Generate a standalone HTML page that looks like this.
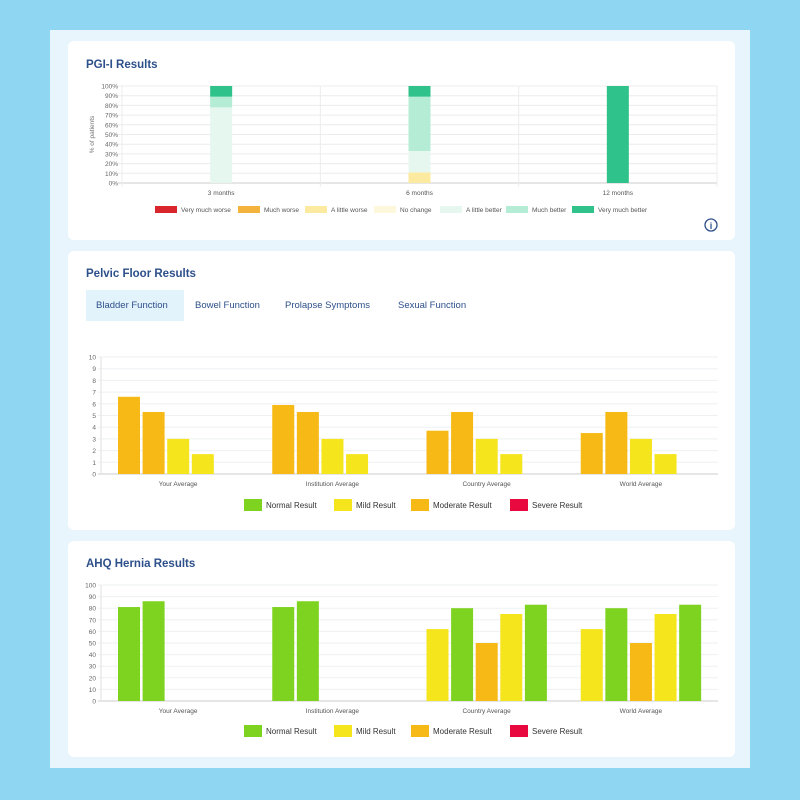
<!DOCTYPE html>
<html><head><meta charset="utf-8">
<style>
body{margin:0;width:800px;height:800px;background:#8fd6f3;font-family:"Liberation Sans",sans-serif;position:relative;overflow:hidden}
#panel{position:absolute;left:50px;top:30px;width:700px;height:738px;background:#e8f5fc}
.card{position:absolute;left:68px;width:667px;background:#fff;border-radius:6px}
.title{position:absolute;left:18px;font-size:11.5px;font-weight:bold;color:#2d4f8a}
.tab{position:absolute;top:39px;height:31px;line-height:31px;font-size:9.5px;color:#2d4f8a;padding:0 10px}
svg{position:absolute;left:0;top:0}
text{font-family:"Liberation Sans",sans-serif}
</style></head><body>
<div id="panel"></div>
<div class="card" style="top:41px;height:199px">
 <div class="title" style="top:18px">PGI-I Results</div>
</div>
<div class="card" style="top:251px;height:279px">
 <div class="title" style="top:17px">Pelvic Floor Results</div>
 <div class="tab" style="left:18px;background:#e3f3fc;width:78px">Bladder Function</div>
 <div class="tab" style="left:117px">Bowel Function</div>
 <div class="tab" style="left:207px">Prolapse Symptoms</div>
 <div class="tab" style="left:320px">Sexual Function</div>
</div>
<div class="card" style="top:541px;height:216px">
 <div class="title" style="top:17px">AHQ Hernia Results</div>
</div>
<svg id="chart" width="800" height="800"></svg>
<script>
// PGI-I data (percent stacked)
const pgiCats = ["3 months","6 months","12 months"];
const pgiSeriesNames = ["Very much worse","Much worse","A little worse","No change","A little better","Much better","Very much better"];
const pgiColors = ["#d8262c","#f4b33d","#fbeaa0","#fdf8dc","#e6f7ef","#b5ecd5","#2fc28a"];
const pgiVeryMuchWorse = [0,0,0];
const pgiMuchWorse = [0,0,0];
const pgiLittleWorse = [0,11,0];
const pgiNoChange = [0,0,0];
const pgiLittleBetter = [78,22,0];
const pgiMuchBetter = [11,56,0];
const pgiVeryMuchBetter = [11,11,100];
const pgiTicks = ["0%","10%","20%","30%","40%","50%","60%","70%","80%","90%","100%"];

// Pelvic floor (bladder) data
const pelCats = ["Your Average","Institution Average","Country Average","World Average"];
const pelValues = [[6.6,5.3,3.0,1.7],[5.9,5.3,3.0,1.7],[3.7,5.3,3.0,1.7],[3.5,5.3,3.0,1.7]];
const pelLevels = [["mod","mod","mild","mild"],["mod","mod","mild","mild"],["mod","mod","mild","mild"],["mod","mod","mild","mild"]];
const pelTicks = [0,1,2,3,4,5,6,7,8,9,10];

// AHQ data
const ahqCats = ["Your Average","Institution Average","Country Average","World Average"];
const ahqValues = [[81,86],[81,86],[62,80,50,75,83],[62,80,50,75,83]];
const ahqLevels = [["norm","norm"],["norm","norm"],["mild","norm","mod","mild","norm"],["mild","norm","mod","mild","norm"]];
const ahqTicks = [0,10,20,30,40,50,60,70,80,90,100];

const levelNames = ["Normal Result","Mild Result","Moderate Result","Severe Result"];
const levelColors = {norm:"#7ed321",mild:"#f5e51c",mod:"#f6b915",sev:"#e8093f"};
const levelKeys = ["norm","mild","mod","sev"];

const NS="http://www.w3.org/2000/svg";
const svg=document.getElementById('chart');
function mk(tag,attrs,txt){const e=document.createElementNS(NS,tag);for(const k in attrs)e.setAttribute(k,attrs[k]);if(txt!==undefined)e.textContent=txt;svg.appendChild(e);return e;}

// ---- PGI ----
(function(){
 const L=122,R=717,T=86,B=183;
 const y=v=>B-(v/100)*(B-T);
 const band=(R-L)/pgiCats.length;
 const x=i=>L+band*(i+0.5);
 pgiTicks.forEach((t,i)=>{
  const yy=y(i*10);
  const g=mk('line',{x1:L-4,x2:R,y1:yy,y2:yy,stroke:i===0?'#ccc':'#ececec','stroke-width':1});
  
  
  const tx=mk('text',{x:L-4,y:yy+2.5,'font-size':6.5,fill:'#666','text-anchor':'end'},t);
  
  
 });
 for(let i=0;i<=pgiCats.length;i++){
  const xx=L+band*i;
  const v=mk('line',{x1:xx,x2:xx,y1:T,y2:B+4,stroke:'#ececec'});
  
  
 }
 const yt=mk('text',{x:0,y:0,'font-size':6.5,fill:'#777','text-anchor':'middle',transform:`translate(94,${(T+B)/2}) rotate(-90)`},'% of patients');
 
 
 const series=[pgiVeryMuchWorse,pgiMuchWorse,pgiLittleWorse,pgiNoChange,pgiLittleBetter,pgiMuchBetter,pgiVeryMuchBetter];
 pgiCats.forEach((c,i)=>{
  let acc=0;
  series.forEach((s,k)=>{
   const v=s[i]; if(!v)return;
   const r=mk('rect',{x:x(i)-11,y:y(acc+v),width:22,height:y(acc)-y(acc+v),fill:pgiColors[k]});
   
   
   acc+=v;
  });
  const lb=mk('text',{x:x(i),y:B+12,'font-size':6.5,fill:'#555','text-anchor':'middle'},c);
  
  
 });
 const lx=[155,238,305,374,440,506,572];
 pgiSeriesNames.forEach((n,k)=>{
  const r=mk('rect',{x:lx[k],y:206,width:22,height:7,fill:pgiColors[k]});
  
  
  const t=mk('text',{x:lx[k]+26,y:212,'font-size':6.5,fill:'#555'},n);
  
  
 });
 const ic=mk('circle',{cx:711,cy:225,r:6,fill:'none',stroke:'#2d4f8a','stroke-width':1.3});
 
 
 const it=mk('text',{x:711,y:229,'font-size':9,fill:'#2d4f8a','text-anchor':'middle','font-weight':'bold'},'i');
 
 
})();

function barChart(prefix,cats,values,levels,ticks,L,R,T,B,max,legendY){
 const y=v=>B-(v/max)*(B-T);
 const band=(R-L)/cats.length;
 ticks.forEach(t=>{
  const yy=y(t);
  const g=mk('line',{x1:L-3,x2:R,y1:yy,y2:yy,stroke:t===0?'#ccc':'#eef0f2'});
  
  
  const tx=mk('text',{x:L-5,y:yy+2.5,'font-size':6.5,fill:'#666','text-anchor':'end'},t);
  
  
 });
 const ax=mk('line',{x1:L,x2:L,y1:T,y2:B,stroke:'#e2e2e2'});
 
 
 cats.forEach((c,i)=>{
  const start=L+band*i+17;
  values[i].forEach((v,j)=>{
   const r=mk('rect',{x:start+j*24.6,y:y(v),width:22,height:B-y(v),fill:levelColors[levels[i][j]]});
   
   
  });
  const lb=mk('text',{x:L+band*i+band*0.5,y:B+12,'font-size':6.5,fill:'#555','text-anchor':'middle'},c);
  
  
 });
 const lx=[244,334,411,510];
 levelNames.forEach((n,k)=>{
  const r=mk('rect',{x:lx[k],y:legendY-6,width:18,height:12,fill:levelColors[levelKeys[k]]});
  
  
  const t=mk('text',{x:lx[k]+22,y:legendY+3,'font-size':8,fill:'#333'},n);
  
  
 });
}
barChart('pelvic',pelCats,pelValues,pelLevels,pelTicks,101,718,357,474,10,505);
barChart('ahq',ahqCats,ahqValues,ahqLevels,ahqTicks,101,718,585,701,100,731);
</script>
</body></html>
